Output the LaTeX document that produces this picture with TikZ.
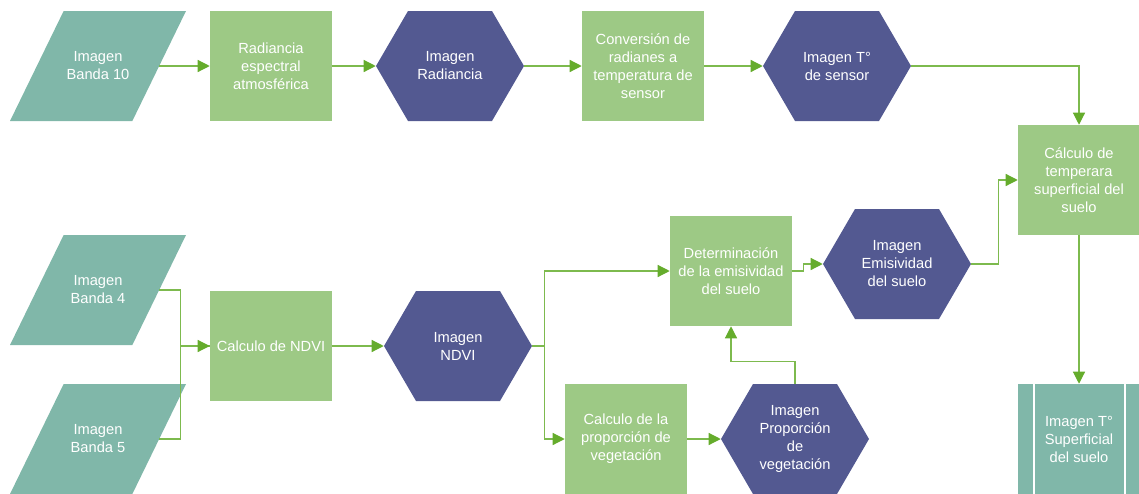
\documentclass[tikz,border=0pt]{standalone}
\usepackage{fontspec}
\setmainfont{Liberation Sans}
\usepackage{tikz}
\usetikzlibrary{positioning, shapes.geometric, arrows.meta}

\definecolor{bandteal}{HTML}{80B7A9}
\definecolor{procgreen}{HTML}{9DC985}
\definecolor{hexblue}{HTML}{535991}
\definecolor{linegreen}{HTML}{7DBA4E}
\definecolor{tipgreen}{HTML}{65AC2C}

\tikzset{
  every box/.style={font=\fontsize{11}{13.5}\selectfont, text=white, align=center, inner sep=2pt},
  bandbox/.style={trapezium, trapezium left angle=64, trapezium right angle=116,
    trapezium stretches body, inner xsep=0pt, inner ysep=41.25pt, fill=bandteal, minimum width=132pt},
  procbox/.style={every box, rectangle, fill=procgreen, minimum width=91.5pt, minimum height=82.5pt},
  imghex/.style={every box, rectangle, minimum width=111pt, minimum height=82.5pt,
    path picture={
      \fill [hexblue] (path picture bounding box.west)
        -- ([xshift=24pt]path picture bounding box.north west)
        -- ([xshift=-24pt]path picture bounding box.north east)
        -- (path picture bounding box.east)
        -- ([xshift=-24pt]path picture bounding box.south east)
        -- ([xshift=24pt]path picture bounding box.south west) -- cycle;
    }},
  outbox/.style={every box, rectangle, fill=bandteal, minimum width=91.5pt, minimum height=82.5pt},
  conn/.style={draw=linegreen, line width=0.9pt, -{Triangle[length=9pt,width=9pt,color=tipgreen]}},
}

\begin{document}
\begin{tikzpicture}[x=0.75pt, y=-0.75pt]
  \useasboundingbox (0,0) rectangle (1139,493);

  % upper row
  \node [bandbox, label={[every box]center:{Imagen\\Banda 10}}] (b10) at (98,66) {};
  \node [procbox] (rad) at (271,66) {Radiancia\\espectral\\atmosférica};
  \node [imghex] (imgrad) at (450,66) {Imagen\\Radiancia};
  \node [procbox] (conv) at (643,66) {Conversión de\\radianes a\\temperatura de\\sensor};
  \node [imghex] (imgts) at (837,66) {Imagen T°\\de sensor};

  % lower part
  \node [bandbox, label={[every box]center:{Imagen\\Banda 4}}] (b4) at (98,290) {};
  \node [bandbox, label={[every box]center:{Imagen\\Banda 5}}] (b5) at (98,439) {};
  \node [procbox] (ndvi) at (271,346) {Calculo de NDVI};
  \node [imghex] (imgndvi) at (458,346) {Imagen\\NDVI};
  \node [procbox] (det) at (731,271) {Determinación\\de la emisividad\\del suelo};
  \node [procbox] (prop) at (626,439) {Calculo de la\\proporción de\\vegetación};
  \node [imghex] (imgprop) at (795,439) {Imagen\\Proporción\\de\\vegetación};
  \node [imghex] (imgem) at (897,264) {Imagen\\Emisividad\\del suelo};

  % right column
  \node [procbox] (calc) at (1079,180) {Cálculo de\\temperara\\superficial del\\suelo};
  \node [outbox] (fin) at (1079,439) {Imagen T°\\Superficial\\del suelo};
  \foreach \c/\s in {west/12pt, east/-11.5pt}
    \draw [white, line width=1.2pt] ([xshift=\s]fin.north \c) -- ([xshift=\s]fin.south \c);

  \foreach \a/\b in {b10/rad, rad/imgrad, imgrad/conv, conv/imgts, ndvi/imgndvi, prop/imgprop, calc/fin}
    \draw [conn] (\a) -- (\b);

  \draw [conn] (imgts.east) -| (calc.north);
  \draw [conn, -] (b5.east) -- ++(21,0) |- (ndvi.west);
  \draw [conn] (b4.east) -- ++(21,0) |- (ndvi.west);
  \draw [conn] (imgndvi.east) -- ++(12,0) |- (det.west);
  \draw [conn] (imgndvi.east) -- ++(12,0) |- (prop.west);
  \draw [conn] (imgprop.north) -- ++(0,-22) -| (det.south);
  \draw [conn] (det.east) -- ++(11,0) |- (imgem.west);
  \draw [conn] (imgem.east) -- ++(27,0) |- (calc.west);

\end{tikzpicture}
\end{document}
